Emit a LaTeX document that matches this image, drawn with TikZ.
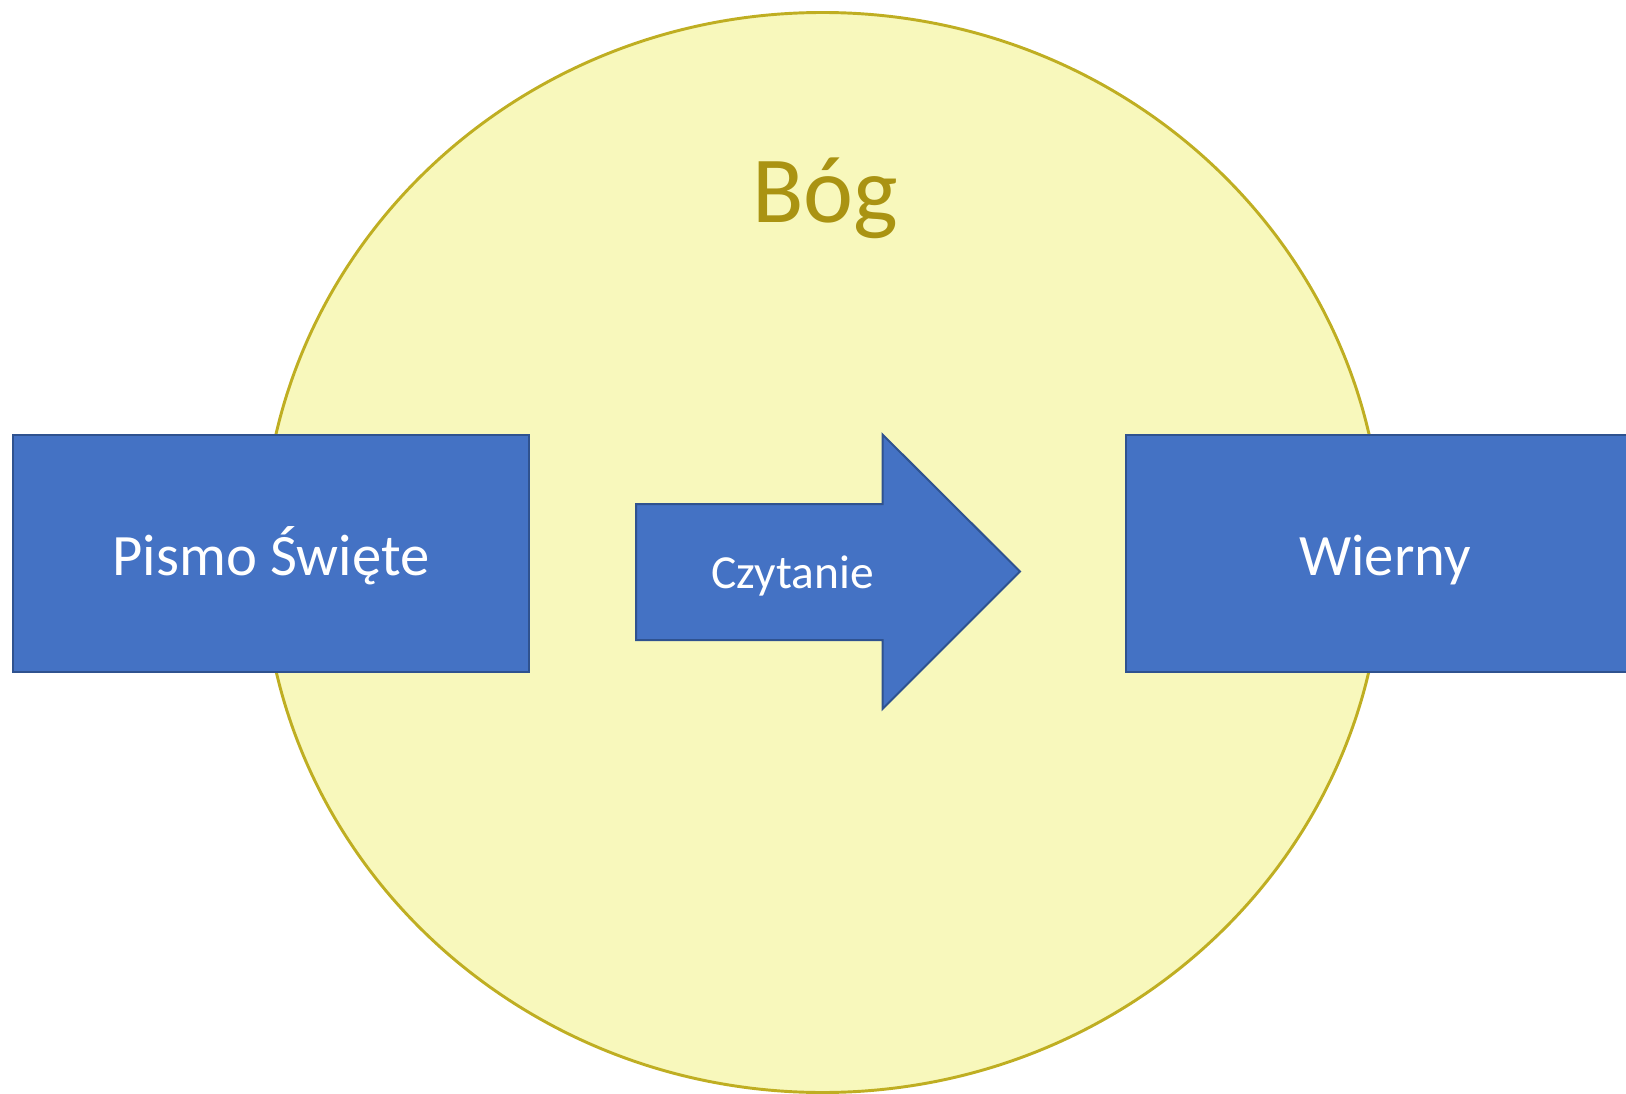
\documentclass[tikz,border=0pt]{standalone}
\usepackage{fontspec}
\setmainfont{Carlito}
\usetikzlibrary{shapes.geometric}
\definecolor{boxblue}{HTML}{4472C4}
\definecolor{boxedge}{HTML}{2F528F}
\definecolor{godfill}{HTML}{F8F8BC}
\definecolor{godedge}{HTML}{BFAE22}
\definecolor{godtext}{HTML}{AA9312}
\tikzset{
  bluebox/.style={draw=boxedge, fill=boxblue, line width=1.5pt, rectangle, inner sep=0pt},
  boxlabel/.style={text=white, anchor=base, inner sep=0pt},
}
\begin{document}
\begin{tikzpicture}[x=0.75pt,y=-0.75pt]
\useasboundingbox (0,0) rectangle (1626,1094);
% God ellipse
\node[ellipse, draw=godedge, fill=godfill, line width=2.2pt, minimum width=1120*0.75pt, minimum height=1080*0.75pt, inner sep=0pt] (god) at (822.5,552.5) {};
\node[text=godtext, anchor=base, inner sep=0pt, font=\fontsize{71}{80}\selectfont] (godlabel) at (825,223) {Bóg};
% left box
\node[bluebox, minimum width=516*0.75pt, minimum height=237*0.75pt] (pismo) at (270.5,553.8) {};
\node[boxlabel, font=\fontsize{44}{52}\selectfont] (pismolabel) at (271,575) {Pismo Święte};
% right box
\node[bluebox, minimum width=518*0.75pt, minimum height=237*0.75pt] (wierny) at (1385,553.8) {};
\node[boxlabel, font=\fontsize{44}{52}\selectfont] (wiernylabel) at (1385,575) {Wierny};
% arrow
\draw[draw=boxedge, fill=boxblue, line width=1.5pt, line join=miter]
  (636,504) -- (882.5,504) -- (882.5,434.5) -- (1020,571.5) -- (882.5,709) -- (882.5,640) -- (636,640) -- cycle;
\node[boxlabel, font=\fontsize{35.6}{42}\selectfont] (czytanie) at (792.5,588) {Czytanie};
\end{tikzpicture}
\end{document}
